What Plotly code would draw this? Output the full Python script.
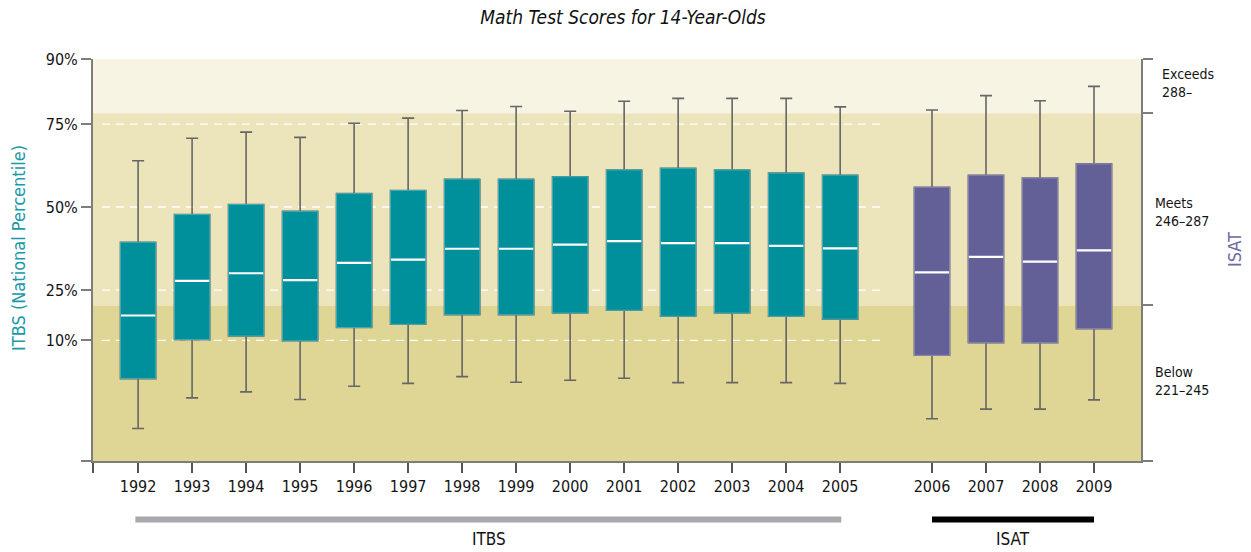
import plotly.graph_objects as go

# ---------------- data (values on the chart's own vertical scale: 0 = bottom, 100 = top) ----------------
itbs_years = ["1992", "1993", "1994", "1995", "1996", "1997", "1998",
              "1999", "2000", "2001", "2002", "2003", "2004", "2005"]
itbs_low = [8.1, 15.7, 17.2, 15.3, 18.6, 19.3, 21.0, 19.6, 20.1, 20.6, 19.5, 19.5, 19.5, 19.3]
itbs_q1 = [20.5, 30.2, 31.1, 29.9, 33.2, 34.0, 36.4, 36.4, 36.8, 37.5, 36.0, 36.8, 36.0, 35.3]
itbs_med = [36.2, 44.8, 46.7, 45.0, 49.3, 50.1, 52.8, 52.8, 53.8, 54.7, 54.2, 54.2, 53.5, 52.9]
itbs_q3 = [54.4, 61.3, 63.8, 62.1, 66.5, 67.3, 70.1, 70.1, 70.7, 72.4, 72.8, 72.4, 71.6, 71.1]
itbs_high = [74.7, 80.3, 81.8, 80.5, 84.0, 85.3, 87.2, 88.2, 87.0, 89.5, 90.2, 90.2, 90.2, 88.1]

isat_years = ["2006", "2007", "2008", "2009"]
isat_low = [10.5, 12.9, 12.9, 15.2]
isat_q1 = [26.3, 29.4, 29.4, 32.9]
isat_med = [46.9, 50.8, 49.6, 52.4]
isat_q3 = [68.1, 71.1, 70.4, 73.9]
isat_high = [87.3, 90.9, 89.6, 93.2]

# percentile tick labels (left axis) and their positions on the chart scale
pct_labels = ["90%", "75%", "50%", "25%", "10%"]
pct_vals = [100, 83.8, 63.2, 42.5, 30.0]

# ISAT performance levels (right axis)
isat_levels = ["Exceeds<br>288–", "Meets<br>246–287", "Below<br>221–245"]
level_bounds = [100, 86.5, 38.7, 0]

# ---------------- layout parameters ----------------
GAP = 0.7          # extra space between the two test series
BOX_W = 0.654
X_RANGE = [-0.835, 18.57]
Y_RANGE = [0, 100]

TEAL = "#00909c"
TEAL_EDGE = "#45adb3"
PURPLE = "#636098"
PURPLE_EDGE = "#8d8ab6"
WHISKER = "#666666"
AXIS = "#7d7d7d"
BAND_TOP = "#f7f4e4"
BAND_MID = "#ece5bc"
BAND_LOW = "#dfd594"
TEXT = "#141414"
FONT = "Liberation Sans Narrow, Arial Narrow, DejaVu Sans Condensed, sans-serif"

itbs_x = [float(i) for i in range(len(itbs_years))]
isat_x = [len(itbs_years) - 1 + GAP + 1 + i for i in range(len(isat_years))]

fig = go.Figure()


def add_group(xs, low, q1, med, q3, high, fill, edge):
    # whiskers
    fig.add_trace(go.Box(
        x=xs, q1=q1, median=med, q3=q3, lowerfence=low, upperfence=high,
        width=BOX_W, whiskerwidth=0.34, fillcolor=fill,
        line=dict(color=WHISKER, width=1.6), boxpoints=False,
        showlegend=False, hoverinfo="skip"))
    # box bodies
    fig.add_trace(go.Box(
        x=xs, q1=q1, median=med, q3=q3, lowerfence=q1, upperfence=q3,
        width=BOX_W, whiskerwidth=0, fillcolor=fill,
        line=dict(color=edge, width=1), boxpoints=False,
        showlegend=False, hoverinfo="skip"))
    # white medians
    mx, my = [], []
    for x, m in zip(xs, med):
        mx += [x - BOX_W / 2 + 0.01, x + BOX_W / 2 - 0.01, None]
        my += [m, m, None]
    fig.add_trace(go.Scatter(x=mx, y=my, mode="lines",
                             line=dict(color="white", width=2.2),
                             showlegend=False, hoverinfo="skip"))


add_group(itbs_x, itbs_low, itbs_q1, itbs_med, itbs_q3, itbs_high, TEAL, TEAL_EDGE)
add_group(isat_x, isat_low, isat_q1, isat_med, isat_q3, isat_high, PURPLE, PURPLE_EDGE)

# invisible trace to activate the right axis
fig.add_trace(go.Scatter(x=[X_RANGE[0]], y=[0], yaxis="y2", mode="markers",
                         marker=dict(opacity=0), showlegend=False, hoverinfo="skip"))

shapes = []
# background bands
for y0, y1, col in [(level_bounds[1], level_bounds[0], BAND_TOP),
                    (level_bounds[2], level_bounds[1], BAND_MID),
                    (level_bounds[3], level_bounds[2], BAND_LOW)]:
    shapes.append(dict(type="rect", xref="paper", yref="y", x0=0, x1=1, y0=y0, y1=y1,
                       fillcolor=col, line=dict(width=0), layer="below"))
# dashed percentile guides across the ITBS years
for v in pct_vals[1:]:
    shapes.append(dict(type="line", xref="x", yref="y", x0=-0.67, x1=13.83, y0=v, y1=v,
                       line=dict(color="white", width=1.4, dash="8px,6px"), layer="below"))
# series bars below the axis
shapes.append(dict(type="line", xref="x", yref="paper", x0=itbs_x[0] - 0.05, x1=itbs_x[-1] + 0.02,
                   y0=-0.1455, y1=-0.1455, line=dict(color="#a8a8ac", width=6)))
shapes.append(dict(type="line", xref="x", yref="paper", x0=isat_x[0], x1=isat_x[-1],
                   y0=-0.1455, y1=-0.1455, line=dict(color="black", width=6)))

annotations = []
annotations.append(dict(text="ITBS", xref="x", yref="paper",
                        x=(itbs_x[0] + itbs_x[-1]) / 2, y=-0.193, yanchor="middle",
                        showarrow=False, font=dict(family=FONT, size=17, color=TEXT)))
annotations.append(dict(text="ISAT", xref="x", yref="paper",
                        x=(isat_x[0] + isat_x[-1]) / 2, y=-0.193, yanchor="middle",
                        showarrow=False, font=dict(family=FONT, size=17, color=TEXT)))
# level labels on the right
lvl_x = [1.0182, 1.0115, 1.0115]
lvl_y = [94.0, 62.0, 19.8]
for t, xx, yy in zip(isat_levels, lvl_x, lvl_y):
    annotations.append(dict(text=t, xref="paper", yref="y", x=xx, y=yy, xanchor="left",
                            yanchor="middle", align="left", showarrow=False,
                            font=dict(family=FONT, size=14, color=TEXT)))
annotations.append(dict(text="ISAT", xref="paper", yref="paper", x=1.0887, y=0.527,
                        xanchor="center", yanchor="middle", textangle=-90, showarrow=False,
                        font=dict(family=FONT, size=18, color="#6e6aa8")))
annotations.append(dict(text="ITBS (National Percentile)", xref="paper", yref="paper",
                        x=-0.0706, y=0.53, xanchor="center", yanchor="middle",
                        textangle=-90, showarrow=False,
                        font=dict(family=FONT, size=18, color="#1a9aa6")))

tick_x = [X_RANGE[0]] + itbs_x + isat_x
tick_t = [""] + itbs_years + isat_years

fig.update_layout(
    width=1251, height=552,
    margin=dict(l=93, r=110, t=59, b=91),
    paper_bgcolor="white", plot_bgcolor="white",
    boxmode="overlay",
    title=dict(text="<i>Math Test Scores for 14-Year-Olds</i>", x=0.498, xref="container",
               y=0.969, yref="container", yanchor="middle", xanchor="center",
               font=dict(family=FONT, size=19, color="#111")),
    font=dict(family=FONT, size=15, color=TEXT),
    xaxis=dict(range=X_RANGE, tickmode="array", tickvals=tick_x, ticktext=tick_t,
               ticks="outside", ticklen=10, tickwidth=1.6, tickcolor="#555",
               showline=True, linecolor=AXIS, linewidth=2, showgrid=False, zeroline=False,
               tickfont=dict(family=FONT, size=16, color=TEXT)),
    yaxis=dict(range=Y_RANGE, tickmode="array", tickvals=[0] + pct_vals,
               ticktext=[""] + pct_labels, ticks="outside", ticklen=10, tickwidth=1.6,
               tickcolor=AXIS, showline=True, linecolor=AXIS, linewidth=2,
               showgrid=False, zeroline=False,
               tickfont=dict(family=FONT, size=16, color=TEXT)),
    yaxis2=dict(range=Y_RANGE, overlaying="y", side="right", tickmode="array",
                tickvals=level_bounds, ticktext=["", "", "", ""], ticks="outside",
                ticklen=10, tickwidth=1.6, tickcolor=AXIS, showline=True,
                linecolor=AXIS, linewidth=2, showgrid=False, zeroline=False),
    shapes=shapes, annotations=annotations,
)

fig.write_html("out.html", config={"displayModeBar": False},
               post_script="document.body.style.margin='0';document.body.style.padding='0';")
